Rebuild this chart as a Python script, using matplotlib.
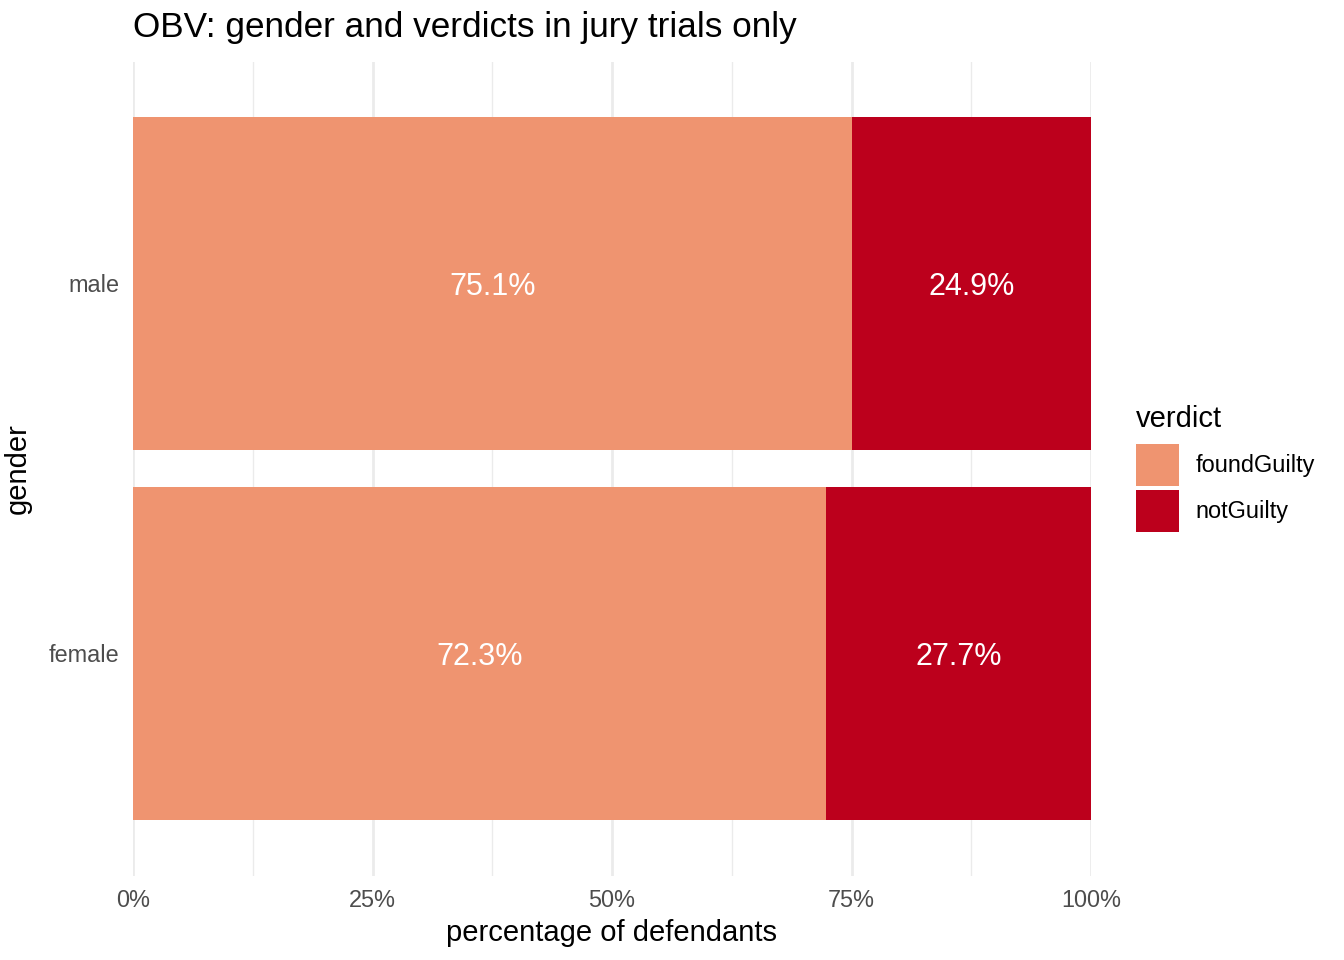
import matplotlib
matplotlib.use("Agg")
import matplotlib.pyplot as plt
from matplotlib.patches import Patch
import numpy as np

genders = ["female", "male"]
verdicts = ["foundGuilty", "notGuilty"]
found_guilty = [0.723, 0.751]
not_guilty = [0.277, 0.249]
x_ticks = [0, 0.25, 0.5, 0.75, 1.0]
x_tick_labels = ["0%", "25%", "50%", "75%", "100%"]
colors = {"foundGuilty": "#EF9470", "notGuilty": "#BC001C"}

plt.rcParams['font.family'] = ['Liberation Sans', 'DejaVu Sans']

W, H = 1344, 960
fig = plt.figure(figsize=(W / 100, H / 100), dpi=100)
ax = fig.add_axes([133 / W, (H - 875.5) / H, 958 / W, 814 / H])

ypos = np.arange(len(genders))
ax.barh(ypos, found_guilty, height=0.9, color=colors["foundGuilty"], zorder=2)
ax.barh(ypos, not_guilty, left=found_guilty, height=0.9, color=colors["notGuilty"], zorder=2)

for i in range(len(genders)):
    ax.text(found_guilty[i] / 2, ypos[i], f"{found_guilty[i]*100:.1f}%", ha="center",
            va="center_baseline", color="white", fontsize=22, zorder=3)
    ax.text(found_guilty[i] + not_guilty[i] / 2, ypos[i], f"{not_guilty[i]*100:.1f}%", ha="center",
            va="center_baseline", color="white", fontsize=22, zorder=3)

ax.set_xlim(0, 1)
ax.set_ylim(-0.6, 1.6)
ax.set_xticks(x_ticks)
ax.set_xticklabels(x_tick_labels)
ax.set_xticks([0.125, 0.375, 0.625, 0.875], minor=True)
ax.set_yticks(ypos)
ax.set_yticklabels(genders, va="center_baseline")
ax.grid(True, which="major", axis="x", color="#EBEBEB", linewidth=2.0, zorder=0)
ax.grid(True, which="minor", axis="x", color="#EBEBEB", linewidth=1.0, zorder=0)
for s in ax.spines.values():
    s.set_visible(False)
ax.tick_params(axis="both", which="both", length=0, labelsize=16.9, labelcolor="#4D4D4D")
ax.tick_params(axis="x", pad=10)
ax.tick_params(axis="y", pad=10)

ax.set_xlabel("percentage of defendants", fontsize=21, labelpad=5)
ax.set_ylabel("gender", fontsize=21, labelpad=12)
fig.text(133 / W, 1 - 28 / H, "OBV: gender and verdicts in jury trials only", fontsize=25.3,
         ha="left", va="center")

handles = [Patch(facecolor=colors[v], edgecolor="none", label=v) for v in verdicts]
leg = fig.legend(handles=handles, title="verdict", loc="upper left",
                 bbox_to_anchor=(1129 / W, 1 - 398 / H), frameon=False,
                 fontsize=16.9, title_fontsize=21, handlelength=1.83, handleheight=2.37,
                 labelspacing=0.16, handletextpad=0.7, borderaxespad=0, borderpad=0.3)
leg._legend_box.align = "left"
leg._legend_box.sep = 8

fig.savefig("out.png", dpi=100)
